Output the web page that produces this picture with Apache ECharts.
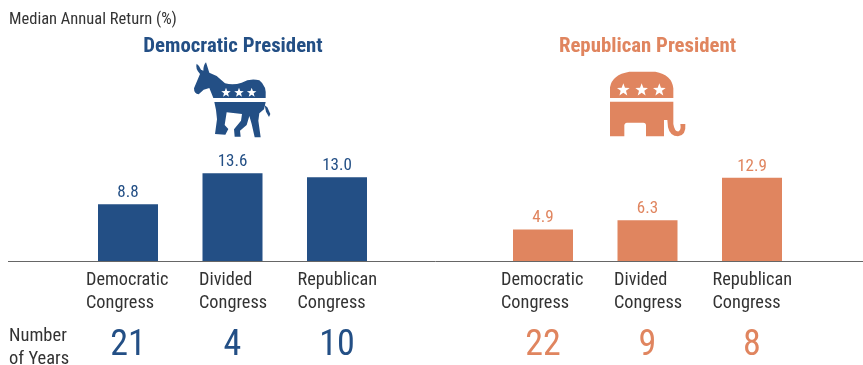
<!DOCTYPE html>
<html>
<head>
<meta charset="utf-8">
<style>html,body{margin:0;padding:0;background:#fff}#chart{width:863px;height:365px}</style>
<script src="https://cdn.jsdelivr.net/npm/echarts@6/dist/echarts.min.js"></script>
</head>
<body>
<div id="chart"></div>
<script>
// Median annual return by party of the president and make-up of Congress
const congressLabels = ['Democratic', 'Divided', 'Republican'];
const democraticReturns = [8.8, 13.6, 13.0];
const republicanReturns = [4.9, 6.3, 12.9];
const democraticYears = ['21', '4', '10'];
const republicanYears = ['22', '9', '8'];
const yAxisTitle = 'Median Annual Return (%)';
const yearsTitle = 'Number\nof Years';
const panelTitles = ['Democratic President', 'Republican President'];

const BLUE = '#234f85';
const ORANGE = '#e0855f';
const NARROW = '"Roboto Condensed", "Liberation Sans", sans-serif';
const TEXT = '#333333';

// Width of each two-line label block, so its lines start flush left
const labelStyle = { align: 'left', color: TEXT, fontFamily: NARROW, fontSize: 18.3, lineHeight: 23 };
const labelBlock = {
  Democratic: { ...labelStyle, width: 84 },
  Divided: { ...labelStyle, width: 67 },
  Republican: { ...labelStyle, width: 79 }
};

function starPath(cx, cy, r) {
  let d = '';
  for (let i = 0; i < 10; i++) {
    const rad = i % 2 ? r * 0.42 : r;
    const a = -Math.PI / 2 + i * Math.PI / 5;
    d += (i ? 'L' : 'M') + (cx + rad * Math.cos(a)).toFixed(1) + ' ' + (cy + rad * Math.sin(a)).toFixed(1);
  }
  return d + 'Z';
}

// Party emblems, outlined in a 3x local coordinate space
const donkeyBody =
  'M80 101 Q75 115 90 132 L72 175 Q72 192 86 193 L101 179 L118 174 L130 204 L287 204 ' +
  'Q291 168 268 151 Q240 144 215 158 Q190 167 165 160 L140 138 L118 128 L108 97 ' +
  'Q100 105 100 122 L93 119 Q88 106 80 101Z ' +
  'M133 216 L287 216 L282 238 L268 250 L265 272 L272 322 L254 322 L245 282 L238 258 ' +
  'L230 285 L210 302 L212 320 L194 320 L192 298 L213 272 L216 252 L170 247 L164 285 ' +
  'L175 297 L166 314 L135 312 L141 268 L138 240Z ' +
  'M284 226 L292 232 L301 252 L297 261 L288 245Z';
const elephantBody =
  'M60 204 L60 172 Q66 134 118 125 L196 125 Q246 134 250 175 L250 204Z ' +
  'M60 215 L250 215 L250 282 Q254 306 266 304 Q274 300 271 282 L286 282 ' +
  'Q289 316 264 319 Q240 319 234 292 L232 270 L222 270 L222 319 L168 319 ' +
  'L168 284 Q167 278 160 278 L110 278 Q104 279 103 285 L103 319 L60 319Z';

const stars = (points, r) => points.map(p => starPath(p[0], p[1], r)).join('');
echarts.graphic.registerShape('donkey', echarts.graphic.extendPath(donkeyBody));
echarts.graphic.registerShape('elephant', echarts.graphic.extendPath(elephantBody));
echarts.graphic.registerShape('donkeyStars', echarts.graphic.extendPath(stars([[168, 188], [207, 188], [245, 188]], 15)));
echarts.graphic.registerShape('elephantStars', echarts.graphic.extendPath(stars([[100, 180], [155, 180], [208, 180]], 20)));

function emblem(x, y, body, starShape, color) {
  return {
    type: 'group', x: x, y: y, scaleX: 1 / 3, scaleY: 1 / 3,
    children: [
      { type: body, style: { fill: color } },
      { type: starShape, style: { fill: '#fff' } }
    ]
  };
}

const SLOT = 104.5;
const GRID_TOP = 164.25;
const GRID_H = 96.75;
const grids = [
  { left: 75.75, top: GRID_TOP, width: SLOT * 3, height: GRID_H },
  { left: 490.75, top: GRID_TOP, width: SLOT * 3, height: GRID_H }
];

function nameAxis(gridIndex) {
  return {
    type: 'category', gridIndex, data: congressLabels, position: 'bottom',
    axisLine: { show: false }, axisTick: { show: false },
    axisLabel: {
      interval: 0, margin: 8,
      formatter: v => `{${v}|${v}}\n{${v}|Congress}`,
      rich: labelBlock
    }
  };
}
function yearsAxis(gridIndex, values, color) {
  return {
    type: 'category', gridIndex, data: values, position: 'bottom',
    axisLine: { show: false }, axisTick: { show: false },
    axisLabel: { interval: 0, margin: 67, color, fontFamily: NARROW, fontSize: 36 }
  };
}
function valueAxis(gridIndex) {
  return { type: 'value', gridIndex, min: 0, max: 15, show: false };
}
function bars(values, color, axis) {
  return {
    type: 'bar', data: values, xAxisIndex: axis, yAxisIndex: axis,
    barWidth: 60, itemStyle: { color },
    label: {
      show: true, position: 'top', distance: 3, color,
      fontFamily: NARROW, fontSize: 17,
      formatter: p => p.value.toFixed(1)
    }
  };
}

const chart = echarts.init(document.getElementById('chart'), null, { renderer: 'canvas' });
chart.setOption({
  animation: false,
  backgroundColor: '#ffffff',
  title: [
    { text: yAxisTitle, left: 4, top: 6, textStyle: { color: TEXT, fontFamily: NARROW, fontSize: 16.5, fontWeight: 'normal' } },
    { text: panelTitles[0], left: 228, top: 31, textAlign: 'center', textStyle: { color: BLUE, fontFamily: NARROW, fontSize: 20.8, fontWeight: 'bold' } },
    { text: panelTitles[1], left: 642.5, top: 31, textAlign: 'center', textStyle: { color: ORANGE, fontFamily: NARROW, fontSize: 20.8, fontWeight: 'bold' } },
    { text: yearsTitle, left: 4, top: 320, textStyle: { color: TEXT, fontFamily: NARROW, fontSize: 18.5, fontWeight: 'normal', lineHeight: 23 } }
  ],
  grid: grids,
  xAxis: [
    nameAxis(0), nameAxis(1),
    yearsAxis(0, democraticYears, BLUE), yearsAxis(1, republicanYears, ORANGE)
  ],
  yAxis: [valueAxis(0), valueAxis(1)],
  series: [bars(democraticReturns, BLUE, 0), bars(republicanReturns, ORANGE, 1)],
  graphic: [
    { type: 'line', shape: { x1: 8, y1: 261.5, x2: 863, y2: 261.5 }, style: { stroke: '#666666', lineWidth: 1 }, z: 10 },
    emblem(170, 30, 'donkey', 'donkeyStars', BLUE),
    emblem(590, 30, 'elephant', 'elephantStars', ORANGE)
  ]
});
</script>
</body>
</html>
